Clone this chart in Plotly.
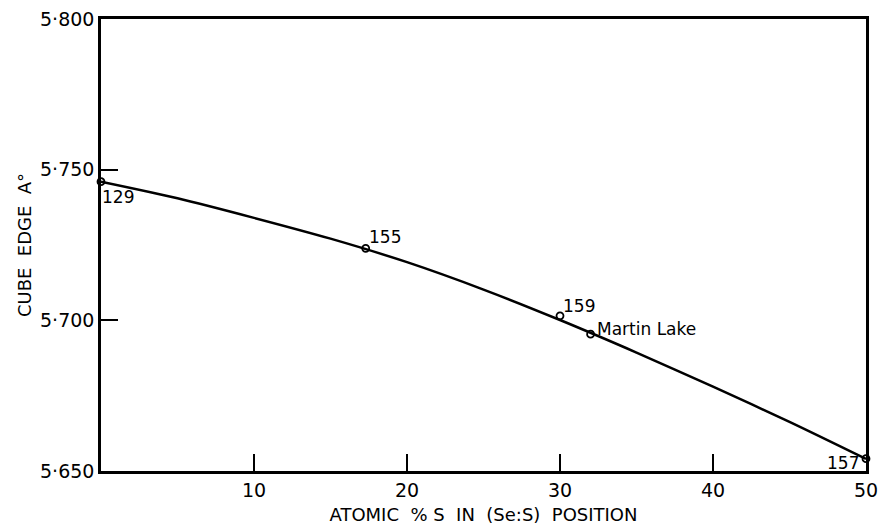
import plotly.graph_objects as go

# Measured specimens
sample_names = ["129", "155", "159", "Martin Lake", "157"]
sample_x = [0.0, 17.3, 30.0, 32.0, 50.0]
sample_y = [5.7460, 5.7239, 5.7015, 5.6954, 5.6541]

# Smooth fitted curve
curve_x = [0, 5, 10, 15, 20, 25, 30, 35, 40, 45, 50]
curve_y = [5.7460, 5.7405, 5.7340, 5.7271, 5.7193, 5.7102, 5.7001, 5.6893, 5.6780, 5.6663, 5.6540]

x_tickvals = [10, 20, 30, 40, 50]
x_ticktext = ["10", "20", "30", "40", "50"]
y_tickvals = [5.650, 5.700, 5.750, 5.800]
y_ticktext = ["5·650", "5·700", "5·750", "5·800"]

FONT = "DejaVu Sans"

fig = go.Figure()
fig.add_trace(go.Scatter(x=curve_x, y=curve_y, mode="lines",
                         line=dict(color="black", width=2.5, shape="spline", smoothing=0.8),
                         hoverinfo="skip", showlegend=False, cliponaxis=False))
fig.add_trace(go.Scatter(x=sample_x, y=sample_y, mode="markers",
                         marker=dict(symbol="circle-open", size=7, color="black",
                                     line=dict(width=1.8, color="black")),
                         showlegend=False, cliponaxis=False))

# label placements (anchor, shifts in px)
label_pos = {
    "129": dict(xanchor="left", yanchor="top", xshift=-1, yshift=-3),
    "155": dict(xanchor="left", yanchor="bottom", xshift=1, yshift=-1),
    "159": dict(xanchor="left", yanchor="bottom", xshift=1, yshift=-2),
    "Martin Lake": dict(xanchor="left", yanchor="middle", xshift=4, yshift=5),
    "157": dict(xanchor="right", yanchor="middle", xshift=-5, yshift=-4),
}
for name, xv, yv in zip(sample_names, sample_x, sample_y):
    p = label_pos[name]
    fig.add_annotation(x=xv, y=yv, text=name, showarrow=False,
                       font=dict(family=FONT, size=17, color="black"), **p)

axis_common = dict(showline=True, linecolor="black", linewidth=2.5, mirror=True,
                   ticks="inside", ticklen=17, tickwidth=2, tickcolor="black",
                   showgrid=False, zeroline=False, automargin=False,
                   ticklabeloverflow="allow",
                   tickfont=dict(family=FONT, size=19, color="black"))

fig.update_xaxes(range=[0, 50], tickvals=x_tickvals, ticktext=x_ticktext,
                 title=dict(text="ATOMIC  % S  IN  (Se:S)  POSITION", standoff=11,
                            font=dict(family=FONT, size=18, color="black")),
                 **axis_common)
fig.update_yaxes(range=[5.650, 5.800], tickvals=y_tickvals, ticktext=y_ticktext,
                 title=dict(text="CUBE  EDGE  A°", standoff=4,
                            font=dict(family=FONT, size=18, color="black")),
                 **axis_common)

fig.update_layout(width=878, height=525, plot_bgcolor="white", paper_bgcolor="white",
                  margin=dict(l=101, r=12, t=19, b=54))

fig.write_html("out.html", config={"displayModeBar": False},
               post_script="document.body.style.margin='0';document.body.style.overflow='hidden';")
